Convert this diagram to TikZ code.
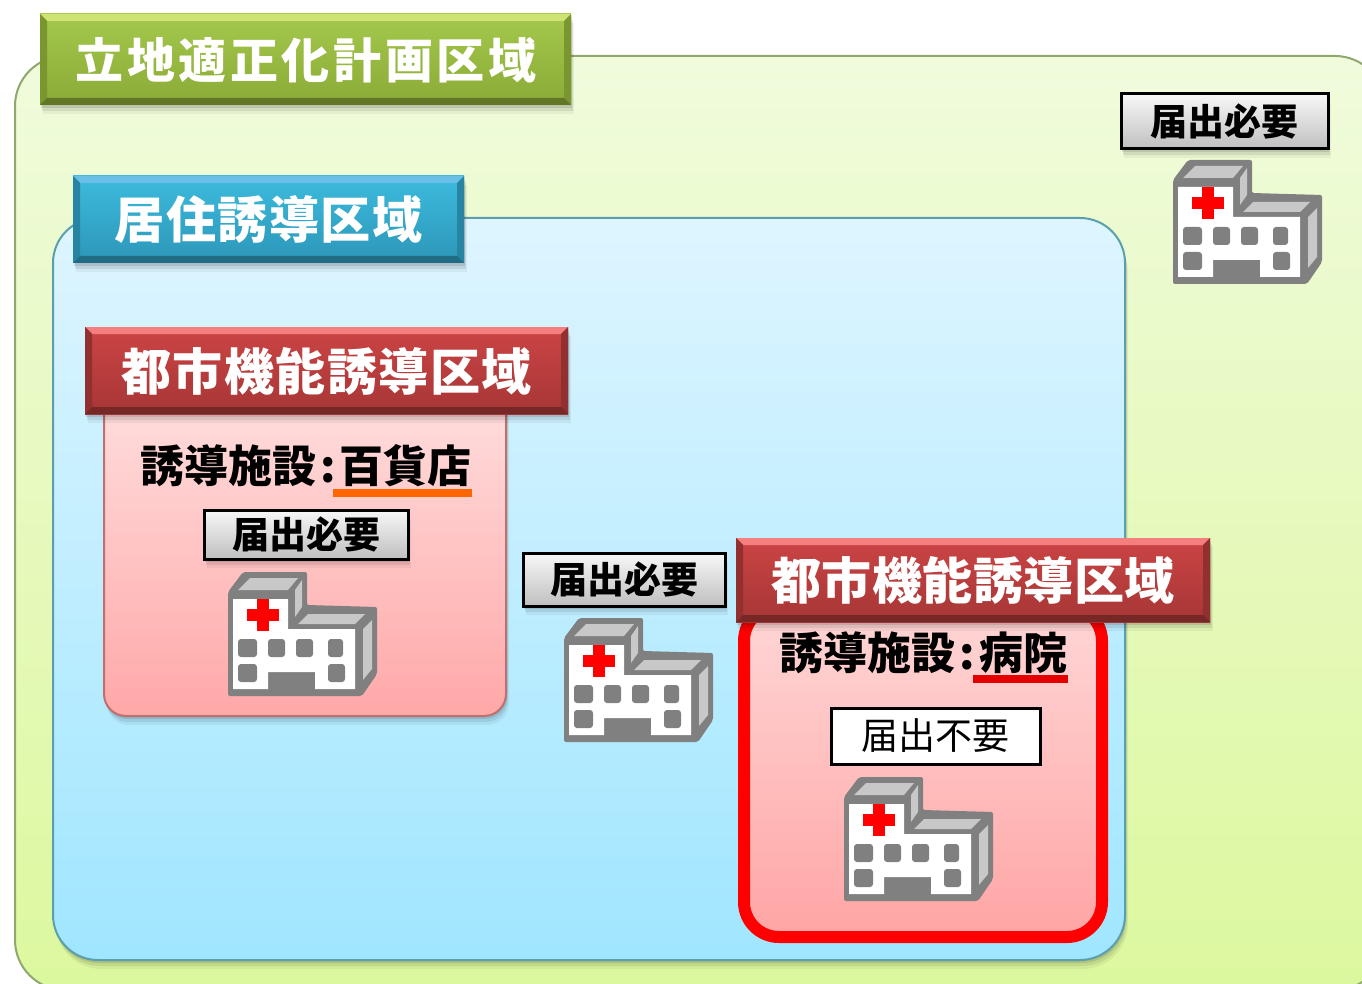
\documentclass[tikz,border=0pt]{standalone}
\usepackage{fontspec}
\usetikzlibrary{shadows}
\newfontfamily\cjk{Noto Sans CJK JP}
\newcommand{\fs}[1]{\fontsize{#1}{#1}\selectfont}
\newcommand{\bevel}[5]{% node, top colour, side colour, bottom colour, size
  \fill[#2] (#1.north west) -- (#1.north east) -- ([xshift=-#5pt,yshift=-#5pt]#1.north east) -- ([xshift=#5pt,yshift=-#5pt]#1.north west) -- cycle;
  \fill[#3] (#1.north west) -- ([xshift=#5pt,yshift=-#5pt]#1.north west) -- ([xshift=#5pt,yshift=#5pt]#1.south west) -- (#1.south west) -- cycle;
  \fill[#3] (#1.north east) -- ([xshift=-#5pt,yshift=-#5pt]#1.north east) -- ([xshift=-#5pt,yshift=#5pt]#1.south east) -- (#1.south east) -- cycle;
  \fill[#4] (#1.south west) -- ([xshift=#5pt,yshift=#5pt]#1.south west) -- ([xshift=-#5pt,yshift=#5pt]#1.south east) -- (#1.south east) -- cycle;
}
\definecolor{hgray}{HTML}{808080}
\definecolor{hlight}{HTML}{C8C8C8}
\definecolor{green1}{HTML}{A4C84C}
\definecolor{green2}{HTML}{8AAA36}
\definecolor{blue1}{HTML}{3DBBDD}
\definecolor{blue2}{HTML}{2C96B8}
\definecolor{red1}{HTML}{CC4444}
\definecolor{red2}{HTML}{A63636}
\tikzset{
  softshadow/.style={
    general shadow={shadow xshift=1pt,shadow yshift=-3pt,opacity=.10,fill=black},
    general shadow={shadow xshift=2pt,shadow yshift=-6pt,opacity=.08,fill=black},
    general shadow={shadow xshift=3pt,shadow yshift=-9pt,opacity=.05,fill=black}},
  panel/.style={rectangle,inner sep=0pt,outer sep=0pt},
  header/.style={panel,softshadow},
  hdrtext/.style={panel,text=white,font=\cjk\bfseries},
  greenhdr/.style={header,top color=green1,bottom color=green2},
  bluehdr/.style={header,top color=blue1,bottom color=blue2},
  redhdr/.style={header,top color=red1,bottom color=red2},
  graylabel/.style={panel,draw=black,line width=3pt,softshadow,top color=gray!6,bottom color=gray!50,font=\cjk\bfseries\fs{37}},
  whitelabel/.style={panel,draw=black,line width=3pt,fill=white,font=\cjk\fs{37}},
  facility/.style={inner sep=0pt,font=\cjk\bfseries\fs{44}},
  hospital/.pic={
    \fill[hgray,rounded corners=2pt] (1,20) -- (16,0) -- (80,0) -- (80,33) -- (150,35) -- (150,102) -- (135,124) -- (1,124) -- cycle;
    \fill[white] (6,27) -- (61,27) -- (61,57) -- (128,57) -- (128,117) -- (88,117) -- (88,100) -- (41,100) -- (41,117) -- (6,117) -- cycle;
    \fill[hlight] (11,18) -- (23,6) -- (71,6) -- (61,18) -- cycle;
    \fill[hlight] (68,18) -- (75,8) -- (75,35) -- (68,45) -- cycle;
    \fill[hlight] (71,52) -- (81,42) -- (138,42) -- (128,52) -- cycle;
    \fill[hlight] (136,57) -- (145,48) -- (145,97) -- (136,108) -- cycle;
    \fill[red] (30,27) rectangle (42,59);
    \fill[red] (20,37) rectangle (52,49);
    \foreach \xa/\xb in {11/30,41/58,69/86,101/116}{\fill[hgray,rounded corners=3pt] (\xa,67) rectangle (\xb,85);}
    \fill[hgray,rounded corners=3pt] (11,92) rectangle (30,110);
    \fill[hgray,rounded corners=3pt] (101,92) rectangle (118,110);
  }
}
\begin{document}
\begin{tikzpicture}[x=1pt,y=-1pt]
\useasboundingbox (0,0) rectangle (1362,984);
\clip (0,0) rectangle (1362,984);
% urban area
\node[panel,draw={rgb,255:red,143;green,168;blue,110},line width=2pt,rounded corners=50pt,minimum width=1370pt,minimum height=934pt,top color={rgb,255:red,240;green,251;blue,220},bottom color={rgb,255:red,220;green,248;blue,158}] (outer) at (700,523) {};
\node[greenhdr,minimum width=531pt,minimum height=91pt] (ghdr) at (305.5,59.5) {};
\bevel{ghdr}{green1!75!yellow!70!white}{green2!88!black}{green2!70!black}{7}
\node[hdrtext] (gtext) at (306,60) {\fs{48}\addfontfeature{LetterSpace=7.5}立地適正化計画区域};
% residential area
\node[panel,draw={rgb,255:red,91;green,159;blue,174},line width=2pt,softshadow,rounded corners=45pt,minimum width=1072pt,minimum height=742pt,top color={rgb,255:red,222;green,245;blue,255},bottom color={rgb,255:red,160;green,230;blue,255}] (resid) at (589,589) {};
\node[bluehdr,minimum width=391pt,minimum height=87pt] (bhdr) at (268.5,219.5) {};
\bevel{bhdr}{cyan!50!blue1!70!white}{blue2!88!black}{blue2!72!black}{7}
\node[hdrtext] (btext) at (268.5,220) {\fs{50}\addfontfeature{LetterSpace=3}居住誘導区域};
% first facility area
\node[panel,draw={rgb,255:red,192;green,111;blue,111},line width=2pt,softshadow,rounded corners=22pt,minimum width=402pt,minimum height=326pt,top color={rgb,255:red,255;green,222;blue,222},bottom color={rgb,255:red,255;green,168;blue,168}] (pink) at (305,553) {};
\node[redhdr,minimum width=483pt,minimum height=87pt] (rhdra) at (326.5,370.5) {};
\bevel{rhdra}{red!45!white!80!red1}{red2!88!black}{red2!72!black}{7}
\node[hdrtext] (rtexta) at (326.5,371) {\fs{50}\addfontfeature{LetterSpace=3}都市機能誘導区域};
\node[facility] (faca) at (306,466) {誘導施設\hspace{4pt}:\hspace{4pt}百貨店};
\fill[orange!80!red] (333,489) rectangle (472,497);
\node[graylabel,minimum width=204pt,minimum height=49pt] (lbla) at (306,534.5) {届出必要};
\pic at (227,572) {hospital};
% second facility area
\node[panel,draw=red,line width=12pt,rounded corners=35pt,minimum width=358pt,minimum height=331pt,top color={rgb,255:red,255;green,214;blue,214},bottom color={rgb,255:red,255;green,165;blue,165}] (redpanel) at (923,771.5) {};
\node[redhdr,minimum width=474pt,minimum height=84pt] (rhdrb) at (973,580) {};
\bevel{rhdrb}{red!45!white!80!red1}{red2!88!black}{red2!72!black}{7}
\node[hdrtext] (rtextb) at (973,580) {\fs{50}\addfontfeature{LetterSpace=1}都市機能誘導区域};
\node[facility] (facb) at (923.5,653) {誘導施設\hspace{4pt}:\hspace{4pt}病院};
\fill[red!90!black] (973,675) rectangle (1068,683);
\node[whitelabel,minimum width=209pt,minimum height=56pt] (lblb) at (935.5,736) {届出不要};
\pic at (843,777) {hospital};
% middle hospital
\node[graylabel,minimum width=202pt,minimum height=53pt] (lblc) at (624,579.5) {届出必要};
\pic at (563,618) {hospital};
% outer hospital
\node[graylabel,minimum width=207pt,minimum height=55pt] (lbld) at (1224.5,121.5) {届出必要};
\pic at (1172,160) {hospital};
\end{tikzpicture}
\end{document}
